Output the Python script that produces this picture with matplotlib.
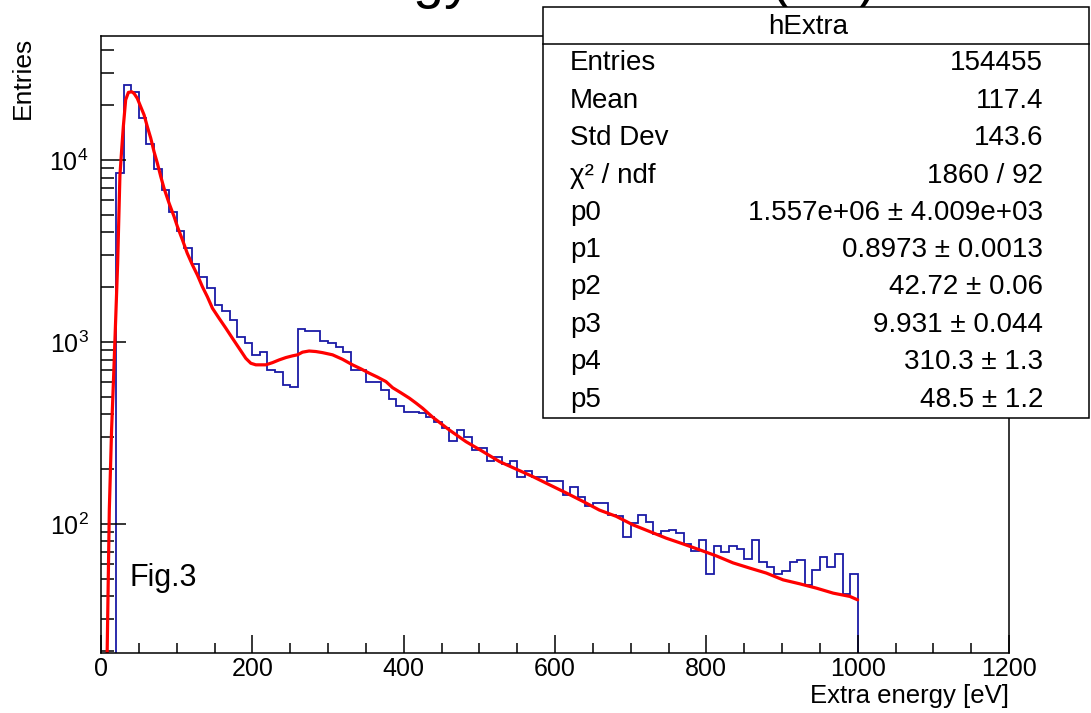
"""
hExtra: espectro de energia extra con ajuste (reproduccion del canvas ROOT)
"""
import matplotlib
matplotlib.use("Agg")
import matplotlib.pyplot as plt
from matplotlib.patches import Rectangle
from matplotlib.lines import Line2D
from matplotlib.ticker import LogLocator, MultipleLocator, NullFormatter

plt.rcParams["font.family"] = ["Liberation Sans", "DejaVu Sans"]
plt.rcParams["mathtext.fontset"] = "custom"
plt.rcParams["mathtext.rm"] = "Liberation Sans"
plt.rcParams["mathtext.it"] = "Liberation Sans:italic"
plt.rcParams["mathtext.bf"] = "Liberation Sans:bold"

# Histograma: bins de 10 eV desde 20 hasta 1000 eV
bin_edges = list(range(20, 1001, 10))
bin_counts = [
    8450, 25800, 23700, 16900, 12200, 8920, 6840, 5160, 4090, 3270,   # 20-110
    2690, 2270, 1990, 1590, 1480, 1320, 1065, 980, 850, 875,          # 120-210
    701, 682, 576, 568, 1175, 1148, 1148, 1011, 984, 942,             # 220-310
    878, 701, 701, 605, 605, 545, 484, 445, 411, 411,                 # 320-410
    405, 385, 365, 338, 287, 326, 299, 255, 261, 222,                 # 420-510
    234, 214, 222, 182, 196, 182, 182, 173, 173, 144,                 # 520-610
    159, 140, 125, 130, 130, 112, 110, 84.5, 101, 112,                # 620-710
    102, 88, 91, 93, 89, 77, 71, 82, 53, 76,                          # 720-810
    70, 76, 73, 64, 81, 62, 58, 53, 55, 62,                           # 820-910
    63, 46, 56, 66, 58, 68, 41, 53,                                   # 920-990
]

# Curva del ajuste
fit_x = [8, 11, 14, 17, 19.5, 22, 25, 27.3, 29.5, 32.6, 36.2, 40.6, 43.7, 48,
         52.5, 56.9, 61.3, 65.7, 70.1, 74.5, 79, 83.3, 90, 96.6, 101, 107.6,
         114, 120.8, 127.4, 134, 140.6, 147.3, 156, 165, 173.7, 182.5, 191.4,
         198, 204.6, 217.8, 226.6, 235.4, 244.3, 253, 259.7, 266.3, 275, 284,
         292.7, 306, 319, 332.4, 343.5, 354.5, 365.5, 376.6, 385.4, 396.4,
         407.4, 416.3, 425, 438.2, 460.3, 482.3, 504.4, 526.5, 548.5, 570.5,
         592.6, 614.6, 636.7, 658.7, 680.8, 702.8, 724.9, 747, 769, 791, 813,
         835.3, 857.4, 879.4, 901.5, 923.5, 945.6, 967.6, 989.7, 1000]
fit_y = [18, 120, 330, 700, 1370, 2700, 8200, 11350, 15240, 21400, 23500,
         23700, 23200, 21800, 19600, 17700, 15200, 13200, 11100, 9590, 8100,
         6990, 5780, 4880, 4300, 3640, 3070, 2650, 2330, 2010, 1770, 1530,
         1349, 1189, 1047, 923, 812, 763, 748, 748, 769, 796, 820, 838, 849,
         878, 891, 885, 873, 849, 803, 748, 711, 673, 640, 605, 560, 525, 491,
         461, 432, 386, 328, 283, 250, 220, 200, 182, 164, 148, 133, 119, 110,
         98.8, 90.8, 83.4, 77.6, 72, 66.7, 61, 57.1, 53.6, 49.2, 46.8, 44.3,
         41.6, 39.9, 38.2]

# Caja de estadisticas
stats_title = "hExtra"
stats_labels = ["Entries", "Mean", "Std Dev", "χ² / ndf", "p0", "p1", "p2",
                "p3", "p4", "p5"]
stats_values = ["154455", "117.4", "143.6", "1860 / 92",
                "1.557e+06 ± 4.009e+03", "0.8973 ± 0.0013", "42.72 ± 0.06",
                "9.931 ± 0.044", "310.3 ± 1.3", "48.5 ± 1.2"]

W, H = 1091, 713


def fx(px):
    return px / W


def fy(py):
    return (H - py) / H


def main():
    fig = plt.figure(figsize=(W / 100, H / 100), dpi=100)
    ax = fig.add_axes([fx(101), fy(653), fx(1009) - fx(101), fy(36) - fy(653)])

    ax.stairs(bin_counts, bin_edges, baseline=1, color="#1a1aa6", linewidth=1.3)
    ax.plot(fit_x, fit_y, color="red", linewidth=2.3, solid_capstyle="round")

    ax.set_yscale("log")
    ax.set_xlim(0, 1200)
    ax.set_ylim(19.5, 4.8e4)

    ax.xaxis.set_major_locator(MultipleLocator(200))
    ax.xaxis.set_minor_locator(MultipleLocator(50))
    ax.yaxis.set_major_locator(LogLocator(base=10))
    ax.yaxis.set_minor_locator(LogLocator(base=10, subs=range(2, 10)))
    ax.yaxis.set_minor_formatter(NullFormatter())

    ax.tick_params(axis="both", which="both", direction="in", top=False,
                   right=False, color="black", width=1.1)
    ax.tick_params(axis="x", which="major", length=13, labelsize=18, pad=2.7)
    ax.tick_params(axis="x", which="minor", length=7)
    ax.tick_params(axis="y", which="major", length=18, labelsize=18, pad=9)
    ax.tick_params(axis="y", which="minor", length=9.5)
    for sp in ax.spines.values():
        sp.set_linewidth(1.1)

    fig.text(fx(23), fy(37), "Entries", rotation=90, ha="center", va="top",
             fontsize=19)
    fig.text(fx(1009), fy(703), "Extra energy [eV]", ha="right",
             va="baseline", fontsize=18.5)
    fig.text(fx(130), fy(578), "Fig.3", ha="left", va="center", fontsize=22)

    # titulo cortado por el borde superior: solo asoman los descendentes
    fig.text(fx(157), fy(-3), "Extra energy distribution (eV)",
             ha="left", va="baseline", fontsize=40)

    # caja de estadisticas
    box = Rectangle((fx(543), fy(418)), fx(1089) - fx(543), fy(7) - fy(418),
                    transform=fig.transFigure, facecolor="white",
                    edgecolor="black", linewidth=1.1, zorder=5)
    fig.patches.append(box)
    fig.lines.append(Line2D([fx(543), fx(1089)], [fy(44), fy(44)],
                            transform=fig.transFigure, color="black",
                            linewidth=1.1, zorder=6))
    fig.text(fx(808), fy(27), stats_title, ha="center", va="center",
             fontsize=20, zorder=7)
    rows_y = [63, 101, 138, 176, 213, 250, 287, 325, 362, 400]
    for yy, lab, val in zip(rows_y, stats_labels, stats_values):
        fig.text(fx(570), fy(yy), lab, ha="left", va="center", fontsize=20,
                 zorder=7)
        fig.text(fx(1043), fy(yy), val, ha="right", va="center", fontsize=20,
                 zorder=7)

    plt.savefig("out.png", dpi=100)


if __name__ == "__main__":
    main()
